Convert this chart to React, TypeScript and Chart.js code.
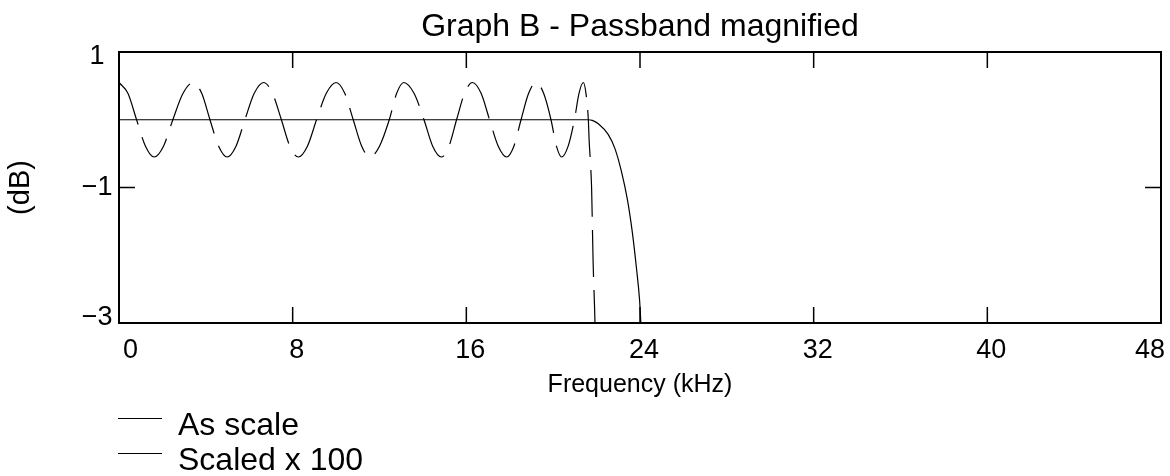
import React, { useEffect, useRef } from 'react';
import { Chart, registerables } from 'chart.js';

Chart.register(...registerables);

const FONT = '"Liberation Sans", Arial, Helvetica, sans-serif';

const TITLE = 'Graph B - Passband magnified';
const X_TITLE = 'Frequency (kHz)';
const Y_TITLE = '(dB)';
const SERIES_LABELS = ['As scale', 'Scaled x 100'];

const X_MIN = 0;
const X_MAX = 48;
const X_STEP = 8;
const Y_MIN = -3;
const Y_MAX = 1;
const Y_STEP = 2;

// "As scale" response (dB) vs frequency (kHz)
const asScaleFreq = [0, 4, 8, 12, 16, 20, 21.62, 21.8, 22.08, 22.54, 22.85, 23.15, 23.42, 23.65, 23.83, 23.98, 24.04, 24.12];
const asScaleDb = [0, 0, 0, 0, 0, 0, 0, -0.01, -0.06, -0.22, -0.43, -0.77, -1.18, -1.67, -2.17, -2.66, -3.0, -3.5];

// "Scaled x 100" response (dB x 100) vs frequency (kHz)
const scaledFreq = [
  0, 0.41, 0.81, 1.22, 1.62, 2.05, 2.48, 2.95, 3.42, 3.81, 4.19, 4.59, 4.98, 5.39, 5.8, 6.23,
  6.66, 7.07, 7.48, 7.87, 8.26, 8.68, 9.1, 9.55, 10.0, 10.4, 10.79, 11.18, 11.56, 12.0, 12.45,
  12.79, 13.12, 13.59, 14.05, 14.45, 14.85, 15.2, 15.55, 15.92, 16.28, 16.68, 17.07, 17.47,
  17.86, 18.19, 18.52, 18.87, 19.21, 19.56, 19.9, 20.15, 20.39, 20.69, 20.98, 21.19, 21.39,
  21.51, 21.62, 21.66, 21.72, 21.77, 21.84, 21.91, 21.95,
];
const scaledDb = [
  0.55, 0.39, 0, -0.39, -0.55, -0.39, 0, 0.39, 0.55, 0.39, 0, -0.39, -0.55, -0.39, 0, 0.39,
  0.55, 0.39, 0, -0.39, -0.55, -0.39, 0, 0.39, 0.55, 0.39, 0, -0.39, -0.55, -0.39, 0,
  0.39, 0.55, 0.39, 0, -0.39, -0.55, -0.39, 0, 0.39, 0.55, 0.39, 0, -0.39,
  -0.55, -0.39, 0, 0.39, 0.55, 0.39, 0, -0.39, -0.55, -0.39, 0, 0.39, 0.55,
  0.39, 0, -0.32, -0.65, -1.0, -2.1, -2.8, -3.3,
];

const fmt = (v: number) => (v < 0 ? '\u2212' + Math.abs(v) : String(v));

const framePlugin = {
  id: 'framePlugin',
  afterDatasetsDraw(chart: any) {
    const { ctx, chartArea } = chart;
    const { left, right, top, bottom } = chartArea;
    const xs = chart.scales.x;
    const ys = chart.scales.y;
    ctx.save();
    ctx.strokeStyle = '#000';
    ctx.lineWidth = 2;
    ctx.strokeRect(left, top, right - left, bottom - top);
    ctx.lineWidth = 1.5;
    const TL = 16;
    ctx.beginPath();
    xs.ticks.forEach((t: any) => {
      const px = xs.getPixelForValue(t.value);
      if (px <= left + 1 || px >= right - 1) return;
      ctx.moveTo(px, bottom);
      ctx.lineTo(px, bottom - TL);
      ctx.moveTo(px, top);
      ctx.lineTo(px, top + TL);
    });
    ys.ticks.forEach((t: any) => {
      const py = ys.getPixelForValue(t.value);
      if (py <= top + 1 || py >= bottom - 1) return;
      ctx.moveTo(left, py);
      ctx.lineTo(left + TL, py);
      ctx.moveTo(right, py);
      ctx.lineTo(right - TL, py);
    });
    ctx.stroke();
    ctx.restore();
  },
  afterDraw(chart: any) {
    const { ctx, chartArea } = chart;
    ctx.save();
    ctx.fillStyle = '#000';
    ctx.textBaseline = 'alphabetic';
    ctx.font = `32px ${FONT}`;
    ctx.textAlign = 'center';
    ctx.fillText(TITLE, (chartArea.left + chartArea.right) / 2, 36);

    // legend
    const items = chart.data.datasets;
    const lineY = [418.5, 453.5];
    const textY = [435, 470];
    ctx.textAlign = 'left';
    items.forEach((ds: any, i: number) => {
      ctx.strokeStyle = '#000';
      ctx.lineWidth = 1;
      ctx.beginPath();
      ctx.moveTo(118, lineY[i]);
      ctx.lineTo(162, lineY[i]);
      ctx.stroke();
      ctx.fillText(ds.label, 178, textY[i]);
    });
    ctx.restore();
  },
};

export default function App() {
  const ref = useRef<HTMLCanvasElement | null>(null);

  useEffect(() => {
    document.body.style.margin = '0';
    const canvas = ref.current;
    if (!canvas) return;
    Chart.defaults.font.family = FONT;
    Chart.defaults.color = '#000';

    const asScalePts = asScaleFreq.map((f, i) => ({ x: f, y: asScaleDb[i] }));
    const scaledPts = scaledFreq.map((f, i) => ({ x: f, y: scaledDb[i] }));

    const chart = new Chart(canvas, {
      type: 'line',
      data: {
        datasets: [
          {
            label: SERIES_LABELS[0],
            data: asScalePts,
            borderColor: '#000',
            borderWidth: 1.2,
            pointRadius: 0,
            cubicInterpolationMode: 'monotone',
            fill: false,
          },
          {
            label: SERIES_LABELS[1],
            data: scaledPts,
            borderColor: '#000',
            borderWidth: 1.2,
            pointRadius: 0,
            cubicInterpolationMode: 'monotone',
            borderDash: [47, 13],
            fill: false,
          },
        ],
      },
      options: {
        animation: false,
        responsive: false,
        devicePixelRatio: 1,
        events: [],
        layout: { padding: { left: 0, right: 9, top: 52, bottom: 0 } },
        plugins: {
          legend: { display: false },
          title: { display: false },
          tooltip: { enabled: false },
        },
        scales: {
          x: {
            type: 'linear',
            min: X_MIN,
            max: X_MAX,
            afterFit: (s: any) => {
              s.height = 153;
            },
            grid: {
              display: true,
              drawOnChartArea: false,
              drawTicks: true,
              tickLength: 11,
              tickColor: 'rgba(0,0,0,0)',
            },
            border: { display: false },
            ticks: {
              stepSize: X_STEP,
              align: 'inner',
              labelOffset: 4,
              padding: 0,
              maxRotation: 0,
              autoSkip: false,
              color: '#000',
              font: { size: 27, family: FONT },
              callback: (v: any) => fmt(Number(v)),
            },
            title: {
              display: true,
              text: X_TITLE,
              color: '#000',
              font: { size: 25, family: FONT },
              padding: { top: 0, bottom: 76 },
            },
          },
          y: {
            type: 'linear',
            min: Y_MIN,
            max: Y_MAX,
            afterFit: (s: any) => {
              s.width = 119;
            },
            grid: { display: false },
            border: { display: false },
            ticks: {
              stepSize: Y_STEP,
              crossAlign: 'center',
              padding: -1.5,
              color: '#000',
              font: (c: any) => {
                const v = c.tick ? c.tick.value : 0;
                const edge = v === Y_MAX || v === Y_MIN;
                return { size: 27, family: FONT, lineHeight: edge ? '10px' : 1.2 };
              },
              callback: (v: any) => {
                const n = Number(v);
                const s = fmt(n);
                if (n === Y_MAX) return ['', s];
                if (n === Y_MIN) return [s, ''];
                return s;
              },
            },
            title: {
              display: true,
              text: Y_TITLE,
              color: '#000',
              font: { size: 29, family: FONT },
              padding: { top: 4, bottom: 0 },
            },
          },
        },
      } as any,
      plugins: [framePlugin],
    });

    return () => {
      chart.destroy();
    };
  }, []);

  return (
    <div style={{ width: 1170, height: 476, background: '#fff' }}>
      <canvas ref={ref} width={1170} height={476} style={{ width: '1170px', height: '476px', display: 'block' }} />
    </div>
  );
}
